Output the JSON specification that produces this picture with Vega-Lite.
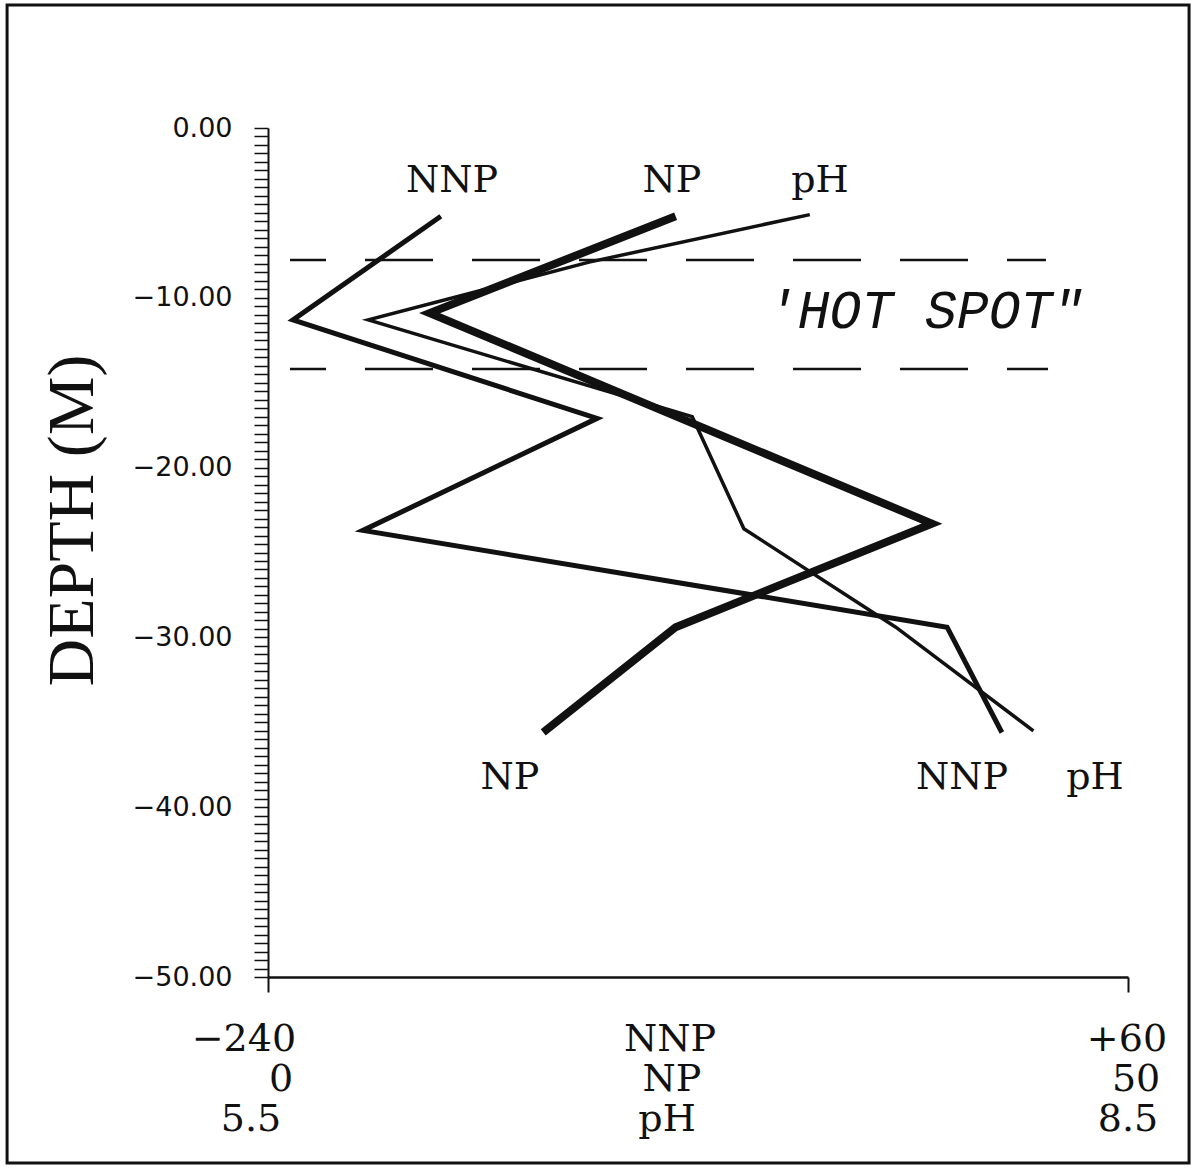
{
  "$schema": "https://vega.github.io/schema/vega-lite/v6.json",
  "width": 860,
  "height": 849,
  "autosize": {"type": "none"},
  "padding": {"left": 268, "top": 128, "right": 64, "bottom": 196},
  "background": "white",
  "config": {"view": {"stroke": null}, "font": "Liberation Serif"},
  "datasets": {
    "profiles": [
      {"series": "NNP", "depth": -5.2, "value": -179.7},
      {"series": "NNP", "depth": -11.3, "value": -231.3},
      {"series": "NNP", "depth": -17.1, "value": -125.2},
      {"series": "NNP", "depth": -23.7, "value": -206.9},
      {"series": "NNP", "depth": -29.4, "value": -3.1},
      {"series": "NNP", "depth": -35.6, "value": 16.0},
      {"series": "NP", "depth": -5.2, "value": 23.7},
      {"series": "NP", "depth": -10.9, "value": 9.4},
      {"series": "NP", "depth": -17.1, "value": 24.0},
      {"series": "NP", "depth": -23.3, "value": 38.6},
      {"series": "NP", "depth": -29.4, "value": 23.7},
      {"series": "NP", "depth": -35.6, "value": 16.0},
      {"series": "pH", "depth": -5.1, "value": 7.39},
      {"series": "pH", "depth": -7.9, "value": 6.62},
      {"series": "pH", "depth": -11.3, "value": 5.85},
      {"series": "pH", "depth": -17.0, "value": 6.98},
      {"series": "pH", "depth": -23.6, "value": 7.16},
      {"series": "pH", "depth": -29.4, "value": 7.69},
      {"series": "pH", "depth": -35.5, "value": 8.17}
    ],
    "hotspot": [
      {"depth": -7.77, "from": 1.28, "to": 45.23},
      {"depth": -14.19, "from": 1.28, "to": 45.35}
    ],
    "seriesLabels": [
      {"label": "NNP", "pos": 10.70, "depth": -3.12},
      {"label": "NP", "pos": 23.49, "depth": -3.12},
      {"label": "pH", "pos": 32.09, "depth": -3.12},
      {"label": "NP", "pos": 14.07, "depth": -38.28},
      {"label": "NNP", "pos": 40.35, "depth": -38.28},
      {"label": "pH", "pos": 48.08, "depth": -38.28},
      {"label": "−240", "pos": -1.40, "depth": -53.71},
      {"label": "0", "pos": 0.76, "depth": -56.07},
      {"label": "5.5", "pos": -0.99, "depth": -58.42},
      {"label": "NNP", "pos": 23.37, "depth": -53.71},
      {"label": "NP", "pos": 23.49, "depth": -56.07},
      {"label": "pH", "pos": 23.20, "depth": -58.42},
      {"label": "+60", "pos": 49.94, "depth": -53.71},
      {"label": "50", "pos": 50.47, "depth": -56.07},
      {"label": "8.5", "pos": 50.0, "depth": -58.42}
    ],
    "annotation": [
      {"label": "'HOT  SPOT\"", "pos": 38.2, "depth": -10.84}
    ]
  },
  "layer": [
    {
      "data": {"name": "hotspot"},
      "mark": {"type": "rule", "color": "#111", "strokeWidth": 2.5, "strokeDash": [68, 39], "strokeDashOffset": 32},
      "encoding": {
        "x": {"field": "from", "type": "quantitative", "scale": {"domain": [0, 50], "nice": false, "zero": false}, "axis": null},
        "x2": {"field": "to"},
        "y": {
          "field": "depth", "type": "quantitative",
          "scale": {"domain": [-50, 0], "nice": false, "zero": false},
          "axis": {
            "values": [0,-0.5,-1,-1.5,-2,-2.5,-3,-3.5,-4,-4.5,-5,-5.5,-6,-6.5,-7,-7.5,-8,-8.5,-9,-9.5,-10,-10.5,-11,-11.5,-12,-12.5,-13,-13.5,-14,-14.5,-15,-15.5,-16,-16.5,-17,-17.5,-18,-18.5,-19,-19.5,-20,-20.5,-21,-21.5,-22,-22.5,-23,-23.5,-24,-24.5,-25,-25.5,-26,-26.5,-27,-27.5,-28,-28.5,-29,-29.5,-30,-30.5,-31,-31.5,-32,-32.5,-33,-33.5,-34,-34.5,-35,-35.5,-36,-36.5,-37,-37.5,-38,-38.5,-39,-39.5,-40,-40.5,-41,-41.5,-42,-42.5,-43,-43.5,-44,-44.5,-45,-45.5,-46,-46.5,-47,-47.5,-48,-48.5,-49,-49.5,-50],
            "tickCount": 500,
            "labelExpr": "datum.value % 10 === 0 ? format(datum.value, '.2f') : ''",
            "labelFont": "DejaVu Sans", "labelFontSize": 27, "labelColor": "#111", "labelPadding": 22,
            "labelOverlap": false, "labelBound": false, "labelFlush": false,
            "tickSize": 14, "tickColor": "#111", "tickWidth": 1.5,
            "domainColor": "#111", "domainWidth": 2, "grid": false,
            "title": "DEPTH   (M)", "titleFont": "Liberation Serif", "titleFontSize": 66, "titleFontWeight": "normal",
            "titleColor": "#111", "titleAngle": 270, "titleAlign": "center", "titleBaseline": "middle",
            "titleX": -196, "titleY": 392
          }
        }
      }
    },
    {
      "data": {"name": "profiles"},
      "transform": [{"filter": "datum.series === 'NNP'"}],
      "mark": {"type": "line", "color": "#111", "strokeWidth": 5, "strokeJoin": "miter", "strokeMiterLimit": 4},
      "encoding": {
        "x": {"field": "value", "type": "quantitative", "scale": {"domain": [-240, 60], "nice": false, "zero": false}, "axis": null},
        "y": {"field": "depth", "type": "quantitative"},
        "order": {"field": "depth", "sort": "descending"}
      }
    },
    {
      "data": {"name": "profiles"},
      "transform": [{"filter": "datum.series === 'pH'"}],
      "mark": {"type": "line", "color": "#111", "strokeWidth": 3.5, "strokeJoin": "miter", "strokeMiterLimit": 4},
      "encoding": {
        "x": {"field": "value", "type": "quantitative", "scale": {"domain": [5.5, 8.5], "nice": false, "zero": false}, "axis": null},
        "y": {"field": "depth", "type": "quantitative"},
        "order": {"field": "depth", "sort": "descending"}
      }
    },
    {
      "data": {"name": "profiles"},
      "transform": [{"filter": "datum.series === 'NP'"}],
      "mark": {"type": "line", "color": "#111", "strokeWidth": 8, "strokeJoin": "miter", "strokeMiterLimit": 4},
      "encoding": {
        "x": {
          "field": "value", "type": "quantitative", "scale": {"domain": [0, 50], "nice": false, "zero": false},
          "axis": {"values": [0, 50], "labels": false, "tickSize": 15, "tickColor": "#111", "tickWidth": 2, "domainColor": "#111", "domainWidth": 2.5, "grid": false, "title": null}
        },
        "y": {"field": "depth", "type": "quantitative"},
        "order": {"field": "depth", "sort": "descending"}
      }
    },
    {
      "data": {"name": "seriesLabels"},
      "mark": {"type": "text", "font": "DejaVu Serif", "fontSize": 38, "color": "#111", "align": "center", "baseline": "middle"},
      "encoding": {
        "x": {"field": "pos", "type": "quantitative", "scale": {"domain": [0, 50], "nice": false, "zero": false}, "axis": null},
        "y": {"field": "depth", "type": "quantitative"},
        "text": {"field": "label"}
      }
    },
    {
      "data": {"name": "annotation"},
      "mark": {"type": "text", "font": "Liberation Mono", "fontStyle": "italic", "fontSize": 53, "color": "#111", "align": "center", "baseline": "middle"},
      "encoding": {
        "x": {"field": "pos", "type": "quantitative", "scale": {"domain": [0, 50], "nice": false, "zero": false}, "axis": null},
        "y": {"field": "depth", "type": "quantitative"},
        "text": {"field": "label"}
      }
    },
    {
      "data": {"values": [{}]},
      "mark": {"type": "rect", "fill": null, "stroke": "#111", "strokeWidth": 3},
      "encoding": {
        "x": {"datum": -15.17, "type": "quantitative", "scale": {"domain": [0, 50], "nice": false, "zero": false}, "axis": null},
        "x2": {"datum": 53.55},
        "y": {"datum": 7.24, "type": "quantitative"},
        "y2": {"datum": -60.95}
      }
    }
  ],
  "resolve": {"scale": {"x": "independent"}, "axis": {"x": "independent"}}
}
